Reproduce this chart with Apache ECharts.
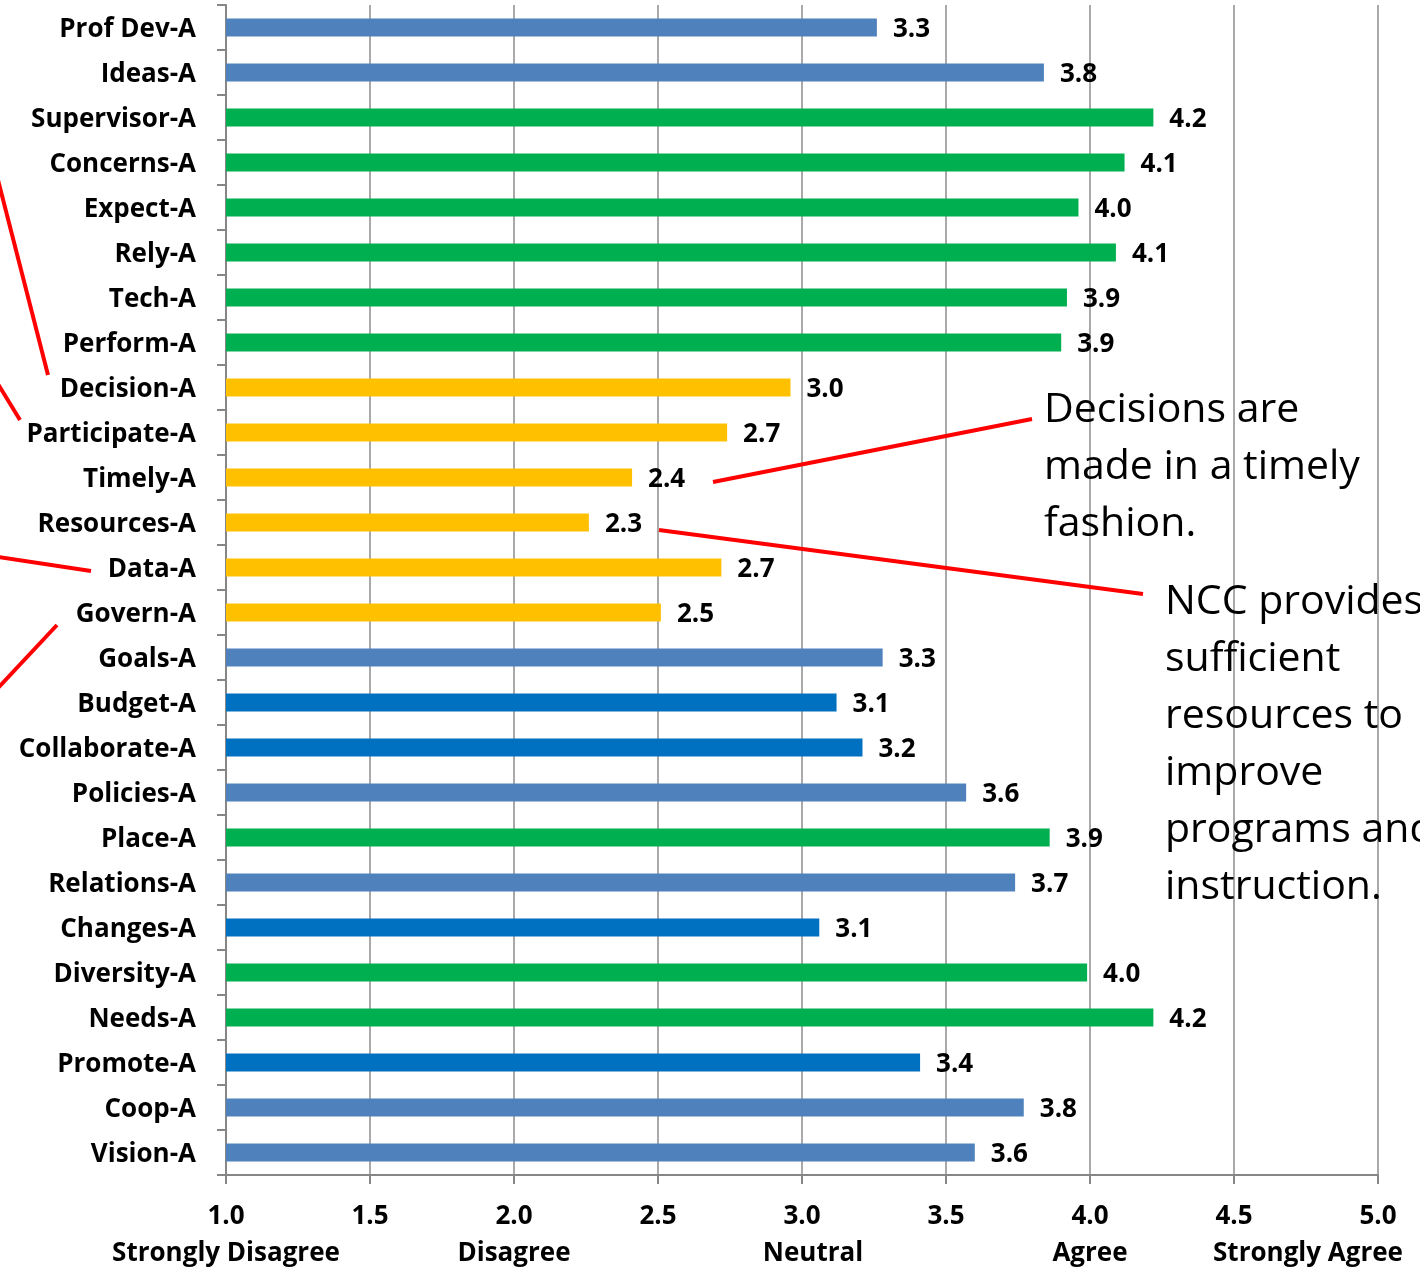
<!DOCTYPE html>
<html>
<head>
<meta charset="utf-8">
<script src="https://cdn.jsdelivr.net/npm/echarts@6/dist/echarts.min.js"></script>
<style>
html,body{margin:0;padding:0;background:#fff;}
#chart{width:1420px;height:1268px;}
</style>
</head>
<body>
<div id="chart"></div>
<script>
const categories = ['Prof Dev-A','Ideas-A','Supervisor-A','Concerns-A','Expect-A','Rely-A','Tech-A','Perform-A','Decision-A','Participate-A','Timely-A','Resources-A','Data-A','Govern-A','Goals-A','Budget-A','Collaborate-A','Policies-A','Place-A','Relations-A','Changes-A','Diversity-A','Needs-A','Promote-A','Coop-A','Vision-A'];
const values = [3.26,3.84,4.22,4.12,3.96,4.09,3.92,3.90,2.96,2.74,2.41,2.26,2.72,2.51,3.28,3.12,3.21,3.57,3.86,3.74,3.06,3.99,4.22,3.41,3.77,3.60];
const groups = ['light','light','green','green','green','green','green','green','yellow','yellow','yellow','yellow','yellow','yellow','light','dark','dark','light','green','light','dark','green','green','dark','light','light'];
const tickValues = [1.0,1.5,2.0,2.5,3.0,3.5,4.0,4.5,5.0];
const tickNames = {1:'Strongly Disagree',2:'Disagree',3:'Neutral',4:'Agree',5:'Strongly Agree'};
const calloutTimely = 'Decisions are\nmade in a timely\nfashion.';
const calloutResources = 'NCC provides\nsufficient\nresources to\nimprove\nprograms and\ninstruction.';

const groupColors = {light:'#4F81BD', green:'#00B050', yellow:'#FFC000', dark:'#0070C0'};
const FONT = '"Open Sans"';
const FS = 26;
const chart = echarts.init(document.getElementById('chart'));
const red = {stroke:'#FF0000', lineWidth:4};
const base = {fontFamily:FONT, fontWeight:'bold', fontSize:FS, color:'#000', lineHeight:37};
const axisCommon = {type:'value', min:1, max:5, interval:0.5, gridIndex:0, position:'bottom'};
chart.setOption({
  animation:false,
  backgroundColor:'#fff',
  grid:{left:226, right:42, top:5, bottom:93, outerBoundsMode:'none', containLabel:false},
  xAxis:[
    Object.assign({}, axisCommon, {
      axisLine:{show:true, lineStyle:{color:'#868686', width:2}},
      axisTick:{show:true, length:9, lineStyle:{color:'#868686', width:2}},
      splitLine:{show:true, lineStyle:{color:'#8c8c8c', width:1.5}},
      axisLabel:{
        margin:23, showMaxLabel:true, showMinLabel:true, hideOverlap:false,
        formatter:function(v){ return '{a|'+v.toFixed(1)+'}'; },
        rich:{a:Object.assign({}, base)}
      }
    }),
    Object.assign({}, axisCommon, {
      axisLine:{show:false}, axisTick:{show:false}, splitLine:{show:false},
      axisLabel:{
        margin:60, showMaxLabel:true, showMinLabel:true, hideOverlap:false,
        formatter:function(v){
          const n = tickNames[v];
          if(!n) return '';
          if(v===5) return '{e|'+n+'}';
          if(v===3) return '{n|'+n+'}';
          return '{b|'+n+'}';
        },
        rich:{
          b:Object.assign({}, base),
          n:Object.assign({padding:[0,0,0,22]}, base),
          e:Object.assign({padding:[0,140,0,0]}, base)
        }
      }
    })
  ],
  yAxis:{
    type:'category', data:categories, inverse:true,
    axisLine:{show:true, lineStyle:{color:'#868686', width:2}},
    axisTick:{show:true, length:9, lineStyle:{color:'#868686', width:2}},
    axisLabel:{
      margin:30,
      formatter:function(v){ return '{c|'+v+'}'; },
      rich:{c:{fontFamily:FONT, fontWeight:'bold', fontSize:FS, color:'#000', padding:[4,0,0,0]}}
    }
  },
  series:[{
    type:'bar',
    xAxisIndex:0,
    barWidth:18,
    data:values.map((v,i)=>({value:v, itemStyle:{color:groupColors[groups[i]]}})),
    label:{
      show:true, position:'right', distance:16, offset:[0,2],
      fontFamily:FONT, fontWeight:'bold', fontSize:FS, color:'#000',
      formatter:p=>p.value.toFixed(1)
    }
  }],
  graphic:[
    {type:'line', shape:{x1:-2,y1:180,x2:48,y2:375}, style:red, z:10},
    {type:'line', shape:{x1:-2,y1:384,x2:20,y2:420}, style:red, z:10},
    {type:'line', shape:{x1:-2,y1:557,x2:91,y2:571}, style:red, z:10},
    {type:'line', shape:{x1:57,y1:625,x2:-2,y2:688}, style:red, z:10},
    {type:'line', shape:{x1:713,y1:482,x2:1032,y2:419}, style:red, z:10},
    {type:'line', shape:{x1:659,y1:530,x2:1143,y2:594}, style:red, z:10},
    {type:'text', left:1044, top:382, z:5, style:{text:calloutTimely, fontFamily:FONT, fontSize:41, lineHeight:57, fill:'#000'}},
    {type:'text', left:1165, top:574, z:5, style:{text:calloutResources, fontFamily:FONT, fontSize:41, lineHeight:57, fill:'#000'}}
  ]
});
</script>
</body>
</html>
